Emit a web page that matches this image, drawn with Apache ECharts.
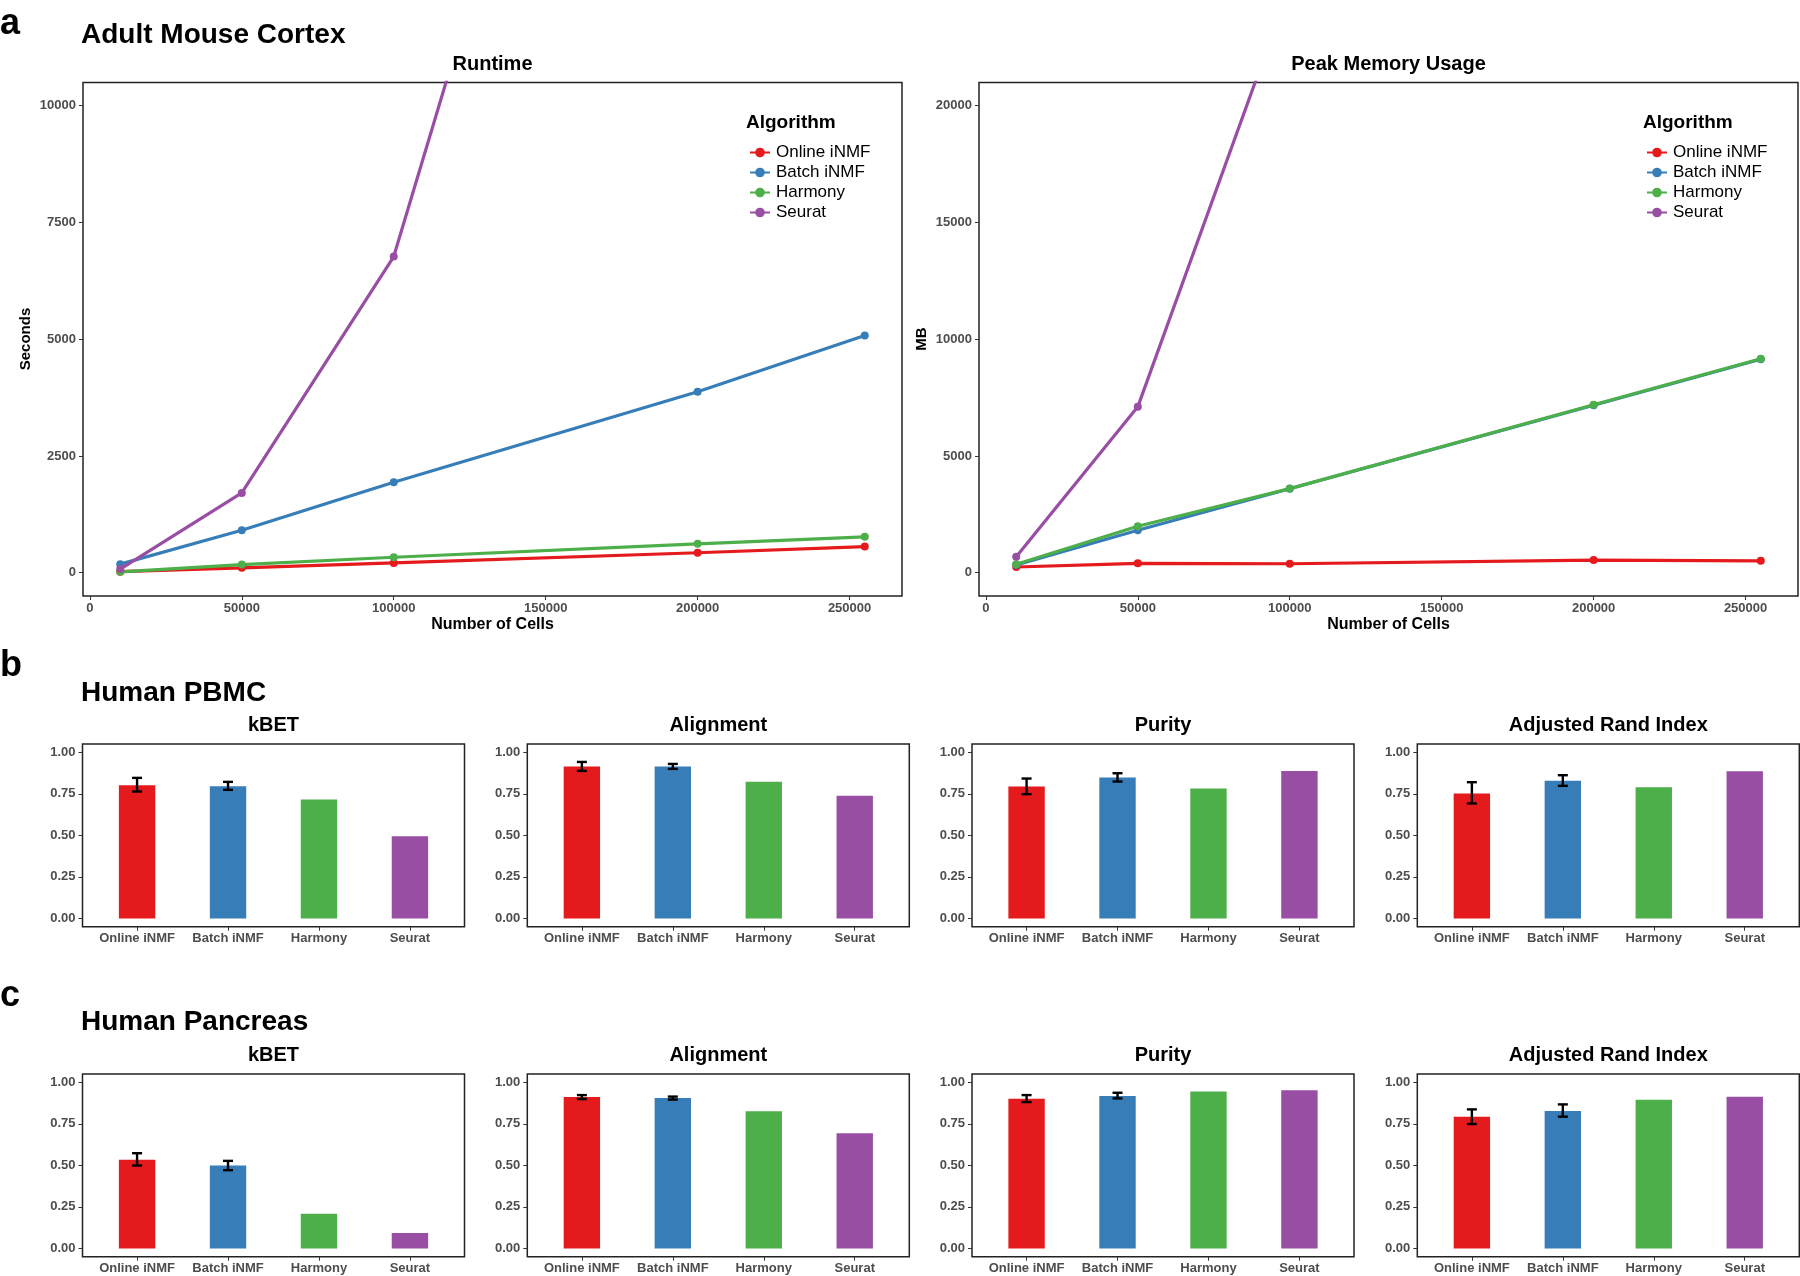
<!DOCTYPE html>
<html>
<head>
<meta charset="utf-8">
<script src="https://cdn.jsdelivr.net/npm/echarts@6/dist/echarts.min.js"></script>
<style>
html,body{margin:0;padding:0;background:#fff;}
#chart{width:1800px;height:1276px;}
</style>
</head>
<body>
<div id="chart"></div>
<script>
// ---------- data ----------
const algorithms = ['Online iNMF', 'Batch iNMF', 'Harmony', 'Seurat'];
const cellCounts = [10000, 50000, 100000, 200000, 255000];

const runtimeOnline  = [20, 103, 208, 426, 558];
const runtimeBatch   = [182, 907, 1937, 3874, 5078];
const runtimeHarmony = [17, 173, 330, 618, 767];
const runtimeSeurat  = [77, 1708, 6771, 28450, null];

const memoryOnline  = [243, 398, 381, 539, 505];
const memoryBatch   = [329, 1813, 3592, 7171, 9143];
const memoryHarmony = [363, 1988, 3600, 7190, 9165];
const memorySeurat  = [679, 7102, 25100, null, null];

const runtimeTicks = [0, 2500, 5000, 7500, 10000];
const memoryTicks  = [0, 5000, 10000, 15000, 20000];
const cellTicks    = [0, 50000, 100000, 150000, 200000, 250000];
const scoreTicks   = [0, 0.25, 0.5, 0.75, 1.0];

const pbmcKbet      = [0.802, 0.796, 0.716, 0.494];
const pbmcKbetErr   = [[0.764, 0.846], [0.774, 0.822], null, null];
const pbmcAlign     = [0.914, 0.914, 0.822, 0.738];
const pbmcAlignErr  = [[0.888, 0.942], [0.900, 0.930], null, null];
const pbmcPurity    = [0.794, 0.848, 0.782, 0.888];
const pbmcPurityErr = [[0.748, 0.842], [0.824, 0.874], null, null];
const pbmcARI       = [0.752, 0.828, 0.790, 0.886];
const pbmcARIErr    = [[0.692, 0.820], [0.798, 0.862], null, null];

const pancKbet      = [0.533, 0.499, 0.209, 0.093];
const pancKbetErr   = [[0.499, 0.573], [0.471, 0.527], null, null];
const pancAlign     = [0.911, 0.905, 0.825, 0.694];
const pancAlignErr  = [[0.899, 0.923], [0.896, 0.914], null, null];
const pancPurity    = [0.901, 0.917, 0.944, 0.952];
const pancPurityErr = [[0.881, 0.923], [0.903, 0.937], null, null];
const pancARI       = [0.793, 0.827, 0.895, 0.913];
const pancARIErr    = [[0.749, 0.837], [0.793, 0.867], null, null];

const metricNames = ['kBET', 'Alignment', 'Purity', 'Adjusted Rand Index'];

// ---------- styling ----------
const colors = ['#E41A1C', '#377EB8', '#4DAF4A', '#984EA3'];
const FONT = '"Liberation Sans", Arial, Helvetica, sans-serif';
const tickColor = '#4D4D4D';
const frameColor = '#222';

const chart = echarts.init(document.getElementById('chart'), null, {renderer: 'canvas'});

const grids = [], xAxes = [], yAxes = [], series = [], graphics = [];

function addText(text, x, y, size, opts) {
  opts = opts || {};
  graphics.push({
    type: 'text', x: x, y: y, rotation: opts.rotation || 0, silent: true,
    style: {
      text: text, fill: opts.color || '#000',
      font: (opts.weight || 'bold') + ' ' + size + 'px ' + FONT,
      textAlign: opts.align || 'center', textVerticalAlign: 'middle'
    }
  });
}

function axisCommon() {
  return {
    axisLine: {show: false, onZero: false},
    axisTick: {show: true, length: 4, lineStyle: {color: '#333', width: 1}},
    splitLine: {show: false},
    axisLabel: {color: tickColor, fontSize: 13, fontWeight: 'bold', fontFamily: FONT}
  };
}

// ---------- panel a : line charts ----------
function addLinePanel(left, seriesArrays, yMin, yMax, yTicks) {
  const gi = grids.length;
  grids.push({left: left, top: 82.4, width: 819, height: 513.6, show: true,
    borderColor: frameColor, borderWidth: 1.5, backgroundColor: 'transparent'});
  const xa = axisCommon();
  Object.assign(xa, {type: 'value', gridIndex: gi, min: -2250, max: 267250});
  xa.axisTick.customValues = cellTicks;
  xa.axisLabel.customValues = cellTicks;
  xa.axisLabel.formatter = v => String(v);
  xa.axisLabel.margin = 6;
  xAxes.push(xa);
  const ya = axisCommon();
  Object.assign(ya, {type: 'value', gridIndex: gi, min: yMin, max: yMax});
  ya.axisTick.customValues = yTicks;
  ya.axisLabel.customValues = yTicks;
  ya.axisLabel.formatter = v => String(v);
  ya.axisLabel.margin = 7;
  yAxes.push(ya);
  seriesArrays.forEach((vals, k) => {
    const data = [];
    vals.forEach((v, i) => { if (v !== null) data.push([cellCounts[i], v]); });
    series.push({
      name: algorithms[k], type: 'line', xAxisIndex: gi, yAxisIndex: gi,
      data: data, symbol: 'circle', symbolSize: 8, clip: true,
      lineStyle: {color: colors[k], width: 3.2},
      itemStyle: {color: colors[k]},
      emphasis: {disabled: true}, animation: false
    });
  });
}

addLinePanel(83, [runtimeOnline, runtimeBatch, runtimeHarmony, runtimeSeurat], -500, 10500, runtimeTicks);
addLinePanel(979, [memoryOnline, memoryBatch, memoryHarmony, memorySeurat], -1000, 21000, memoryTicks);

addText('a', 0, 24, 36, {align: 'left'});
addText('Adult Mouse Cortex', 81, 35, 28, {align: 'left'});
addText('Runtime', 492.5, 64, 20);
addText('Peak Memory Usage', 1388.5, 64, 20);
addText('Seconds', 26, 339, 15, {rotation: Math.PI / 2});
addText('MB', 922, 339, 15, {rotation: Math.PI / 2});
addText('Number of Cells', 492.5, 624.5, 16);
addText('Number of Cells', 1388.5, 624.5, 16);
addText('Algorithm', 746, 123, 19, {align: 'left'});
addText('Algorithm', 1643, 123, 19, {align: 'left'});

// ---------- panels b, c : bar charts ----------
const barLefts = [82.5, 527.3, 972, 1417.3];
const barW = 382, barH = 182.7;

function addBarPanel(left, top, vals, errs, tag) {
  const gi = grids.length;
  grids.push({left: left, top: top, width: barW, height: barH, show: true,
    borderColor: frameColor, borderWidth: 1.5, backgroundColor: 'transparent'});
  const xa = axisCommon();
  Object.assign(xa, {type: 'value', gridIndex: gi, min: 0.4, max: 4.6});
  xa.axisTick.customValues = [1, 2, 3, 4];
  xa.axisLabel.customValues = [1, 2, 3, 4];
  xa.axisLabel.formatter = v => algorithms[Math.round(v) - 1];
  xa.axisLabel.margin = 5;
  xAxes.push(xa);
  const ya = axisCommon();
  Object.assign(ya, {type: 'value', gridIndex: gi, min: -0.05, max: 1.05});
  ya.axisTick.customValues = scoreTicks;
  ya.axisLabel.customValues = scoreTicks;
  ya.axisLabel.formatter = v => v.toFixed(2);
  ya.axisLabel.margin = 7;
  yAxes.push(ya);
  const unitPx = barW / 4.2;
  series.push({
    name: tag, type: 'bar', xAxisIndex: gi, yAxisIndex: gi,
    barWidth: 0.4 * unitPx,
    data: vals.map((v, i) => ({value: [i + 1, v], itemStyle: {color: colors[i]}})),
    emphasis: {disabled: true}, animation: false
  });
  const errData = [];
  errs.forEach((e, i) => { if (e) errData.push([i + 1, e[0], e[1]]); });
  series.push({
    name: tag + '-err', type: 'custom', xAxisIndex: gi, yAxisIndex: gi, z: 10,
    data: errData, animation: false,
    renderItem: function (params, api) {
      const x = api.value(0), lo = api.value(1), hi = api.value(2);
      const pHi = api.coord([x, hi]), pLo = api.coord([x, lo]);
      const hw = api.size([0.11, 0])[0] / 2;
      const st = {stroke: '#000', lineWidth: 2.4};
      return {type: 'group', children: [
        {type: 'line', shape: {x1: pHi[0], y1: pHi[1], x2: pLo[0], y2: pLo[1]}, style: st},
        {type: 'line', shape: {x1: pHi[0] - hw, y1: pHi[1], x2: pHi[0] + hw, y2: pHi[1]}, style: st},
        {type: 'line', shape: {x1: pLo[0] - hw, y1: pLo[1], x2: pLo[0] + hw, y2: pLo[1]}, style: st}
      ]};
    }
  });
}

const pbmcSets = [[pbmcKbet, pbmcKbetErr], [pbmcAlign, pbmcAlignErr], [pbmcPurity, pbmcPurityErr], [pbmcARI, pbmcARIErr]];
const pancSets = [[pancKbet, pancKbetErr], [pancAlign, pancAlignErr], [pancPurity, pancPurityErr], [pancARI, pancARIErr]];

pbmcSets.forEach((s, j) => addBarPanel(barLefts[j], 744, s[0], s[1], 'pbmc-' + j));
pancSets.forEach((s, j) => addBarPanel(barLefts[j], 1074, s[0], s[1], 'panc-' + j));

addText('b', 0, 666, 36, {align: 'left'});
addText('Human PBMC', 81, 693, 28, {align: 'left'});
addText('c', 0, 996, 36, {align: 'left'});
addText('Human Pancreas', 81, 1022.7, 28, {align: 'left'});
metricNames.forEach((m, j) => {
  addText(m, barLefts[j] + barW / 2, 725, 20);
  addText(m, barLefts[j] + barW / 2, 1055, 20);
});

function legendAt(left) {
  return {
    data: algorithms, orient: 'vertical', left: left, top: 137.5,
    itemWidth: 20, itemHeight: 12, itemGap: 0, selectedMode: false,
    textStyle: {fontSize: 17, fontFamily: FONT, color: '#000', lineHeight: 20, padding: [0, 0, 0, 1]}
  };
}

chart.setOption({
  backgroundColor: '#fff',
  animation: false,
  grid: grids,
  xAxis: xAxes,
  yAxis: yAxes,
  legend: [legendAt(744), legendAt(1641)],
  series: series,
  graphic: graphics
});
</script>
</body>
</html>
